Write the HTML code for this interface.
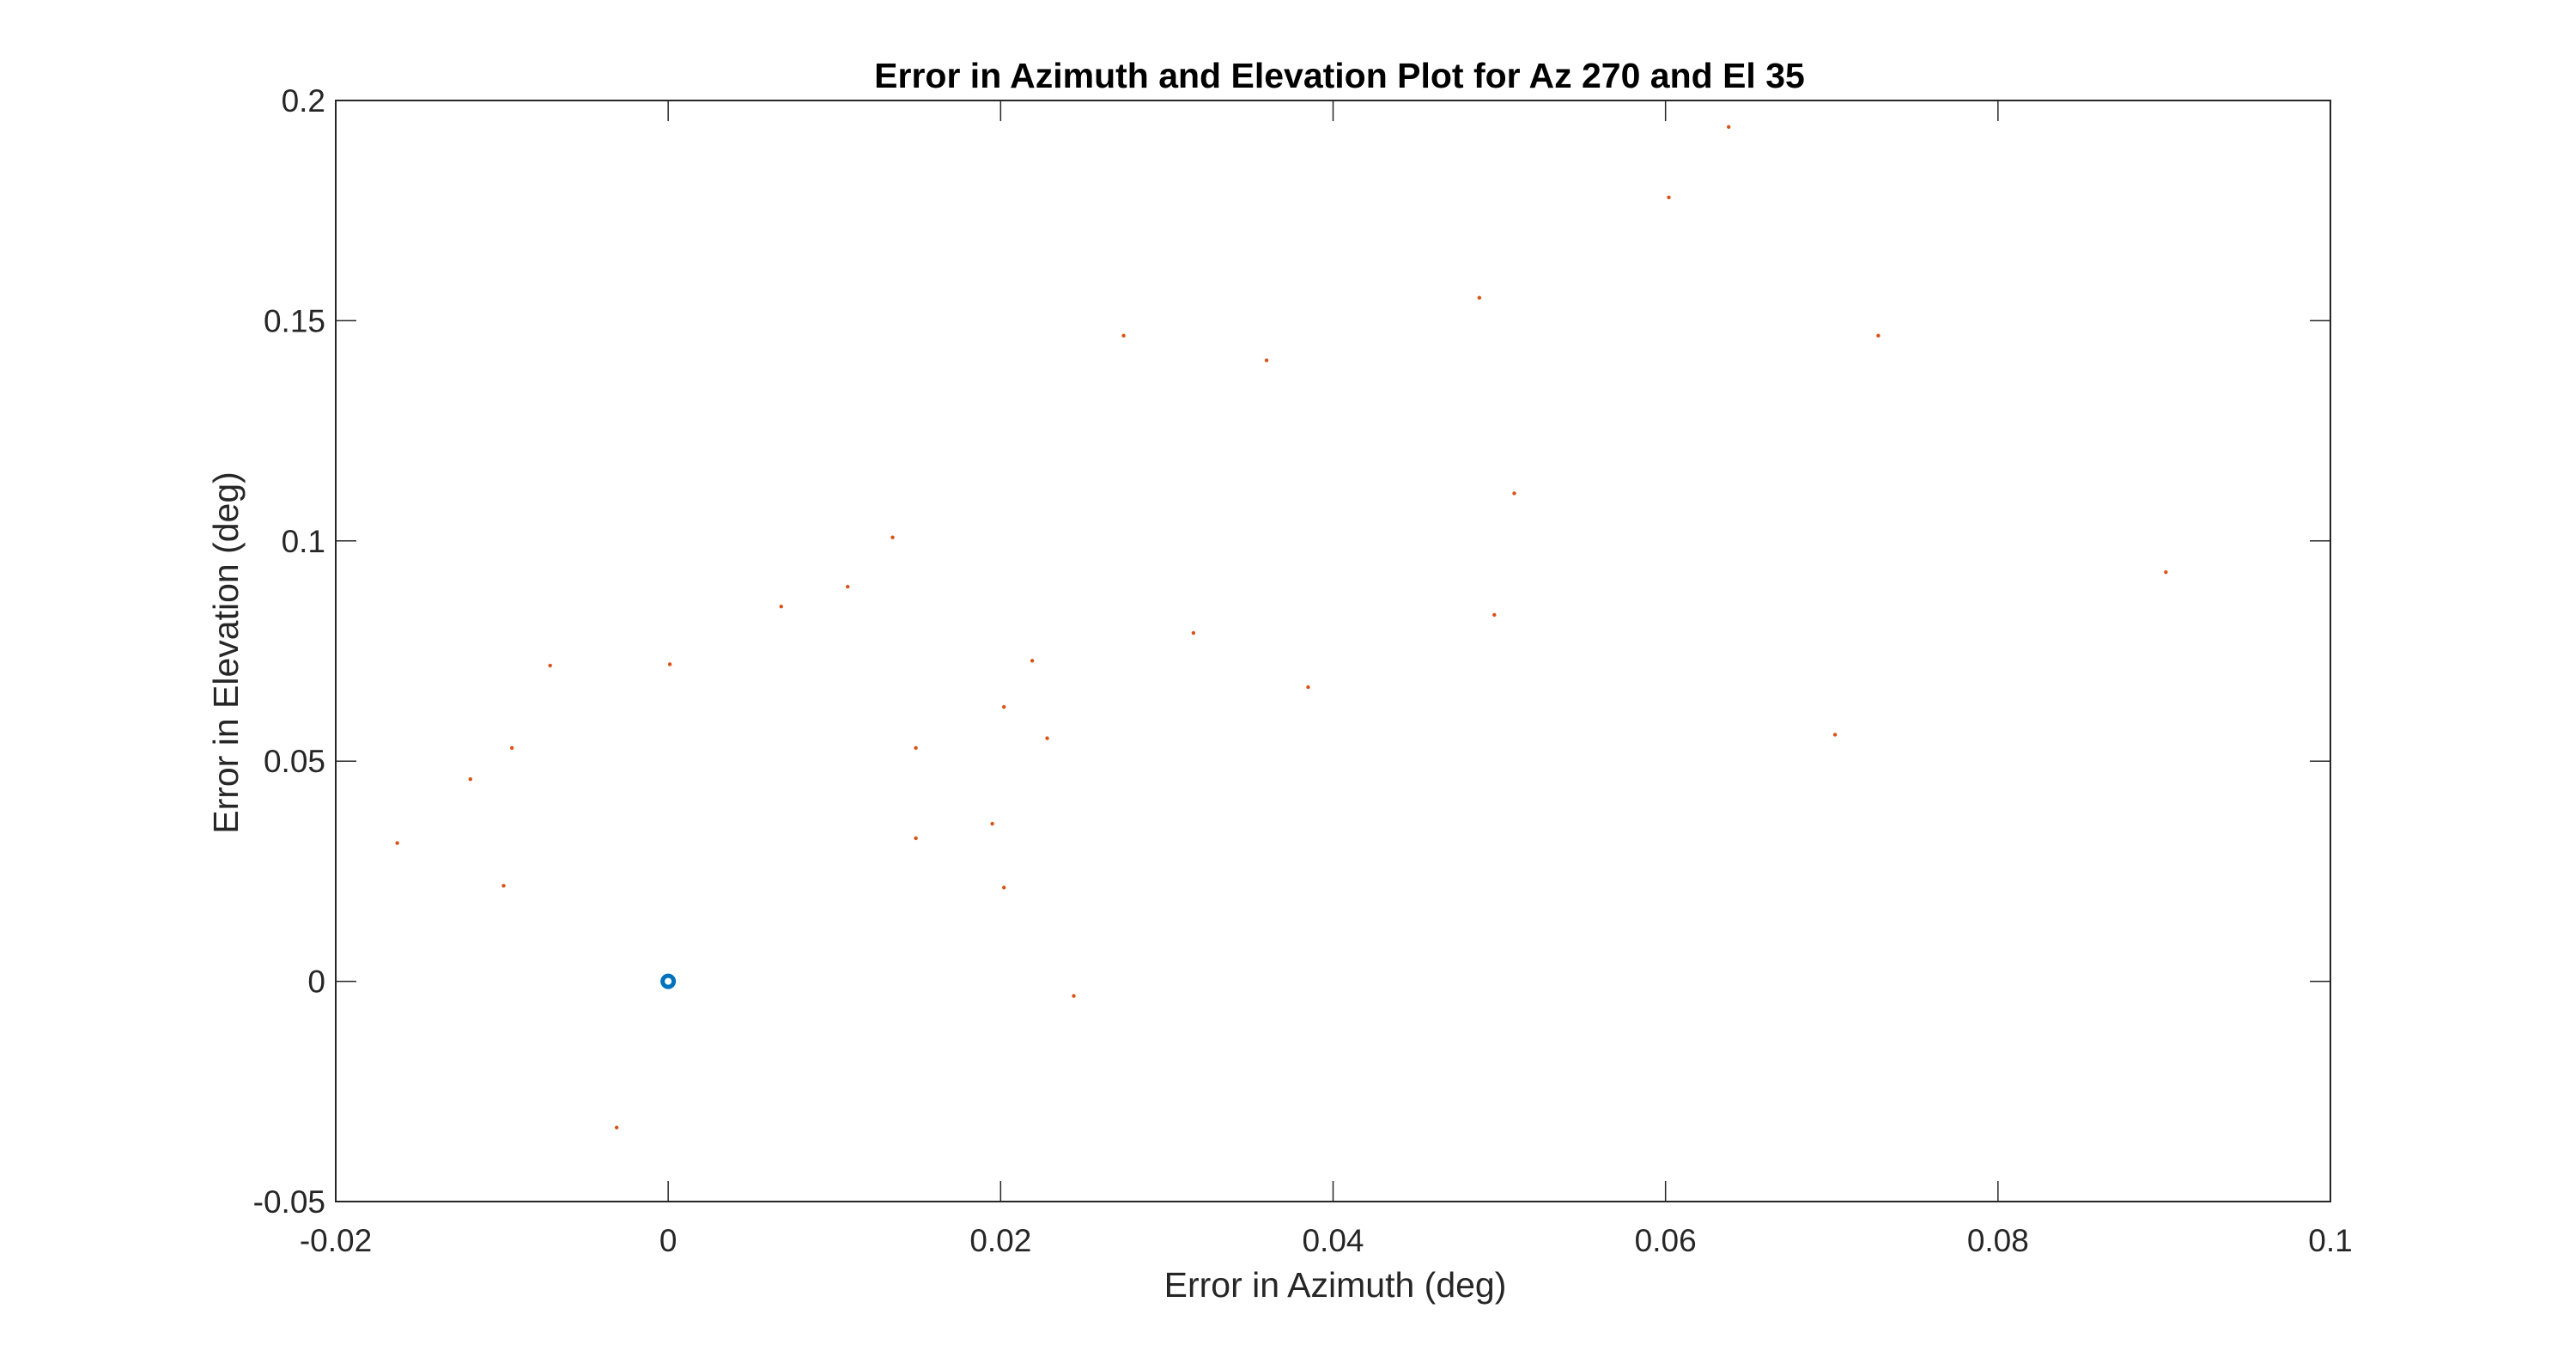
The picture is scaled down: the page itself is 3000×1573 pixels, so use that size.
<!DOCTYPE html>
<html><head><meta charset="utf-8"><style>
html,body{margin:0;padding:0;background:#fff;}
svg{display:block;font-family:"Liberation Sans",Arial,sans-serif;}
</style></head><body>
<svg id="chart" width="3000" height="1573" viewBox="0 0 3000 1573">
<rect width="3000" height="1573" fill="#fff"/>
<text x="1560" y="102" text-anchor="middle" font-size="41" font-weight="bold" fill="#000">Error in Azimuth and Elevation Plot for Az 270 and El 35</text>
<text x="1555" y="1510" text-anchor="middle" font-size="41" fill="#262626">Error in Azimuth (deg)</text>
<text transform="translate(277,760) rotate(-90)" text-anchor="middle" font-size="41" fill="#262626">Error in Elevation (deg)</text>
<g id="axes"></g>
<g id="marks"></g>
</svg>
<script>
const xTicks = [-0.02, 0, 0.02, 0.04, 0.06, 0.08, 0.1];
const xTickLabels = ["-0.02", "0", "0.02", "0.04", "0.06", "0.08", "0.1"];
const yTicks = [-0.05, 0, 0.05, 0.1, 0.15, 0.2];
const yTickLabels = ["-0.05", "0", "0.05", "0.1", "0.15", "0.2"];
const errAz = [-0.0163,-0.0119,-0.0099,-0.0094,-0.0071,-0.0031,0.0001,0.0068,0.0108,0.0135,0.0149,0.0149,0.0195,0.0202,0.0202,0.0219,0.0228,0.0244,0.0274,0.0316,0.0360,0.0385,0.0488,0.0497,0.0509,0.0602,0.0638,0.0702,0.0728,0.0901];
const errEl = [0.0314,0.0459,0.0217,0.0530,0.0717,-0.0332,0.0720,0.0851,0.0896,0.1008,0.0530,0.0325,0.0358,0.0623,0.0213,0.0728,0.0552,-0.0033,0.1466,0.0791,0.1410,0.0668,0.1552,0.0832,0.1108,0.1780,0.1940,0.0560,0.1466,0.0929];
const refAz = [0];
const refEl = [0];

const L=391,R=2714,T=117,B=1399;
const xMin=-0.02,xMax=0.1,yMin=-0.05,yMax=0.2;
function sx(v){return L+(v-xMin)/(xMax-xMin)*(R-L);}
function sy(v){return B-(v-yMin)/(yMax-yMin)*(B-T);}
const NS="http://www.w3.org/2000/svg";
function mk(tag,attrs,parent){const e=document.createElementNS(NS,tag);for(const k in attrs)e.setAttribute(k,attrs[k]);parent.appendChild(e);return e;}
const axes=document.getElementById('axes');
const marks=document.getElementById('marks');
const frame=mk('rect',{x:L,y:T,width:R-L,height:B-T,fill:'none',stroke:'#262626','stroke-width':2},axes);


const tl=24;
xTicks.forEach((v,i)=>{
  const x=sx(v);
  const t1=mk('line',{x1:x,x2:x,y1:B,y2:B-tl,stroke:'#262626','stroke-width':1.5},axes);
  
  
  const t2=mk('line',{x1:x,x2:x,y1:T,y2:T+tl,stroke:'#262626','stroke-width':1.5},axes);
  
  
  const lb=mk('text',{x:x,y:B+58,'text-anchor':'middle','font-size':37,fill:'#262626'},axes);
  lb.textContent=xTickLabels[i];
  
  
});
yTicks.forEach((v,i)=>{
  const y=sy(v);
  const t1=mk('line',{x1:L,x2:L+tl,y1:y,y2:y,stroke:'#262626','stroke-width':1.5},axes);
  
  
  const t2=mk('line',{x1:R,x2:R-tl,y1:y,y2:y,stroke:'#262626','stroke-width':1.5},axes);
  
  
  const lb=mk('text',{x:L-12,y:y+13,'text-anchor':'end','font-size':37,fill:'#262626'},axes);
  lb.textContent=yTickLabels[i];
  
  
});
errAz.forEach((v,i)=>{
  const c=mk('circle',{cx:sx(v),cy:sy(errEl[i]),r:2.2,fill:'#D95319'},marks);
  
  
});
refAz.forEach((v,i)=>{
  const c=mk('circle',{cx:sx(v),cy:sy(refEl[i]),r:6.5,fill:'none',stroke:'#0072BD','stroke-width':5},marks);
  
  
});
</script>
</body></html>
